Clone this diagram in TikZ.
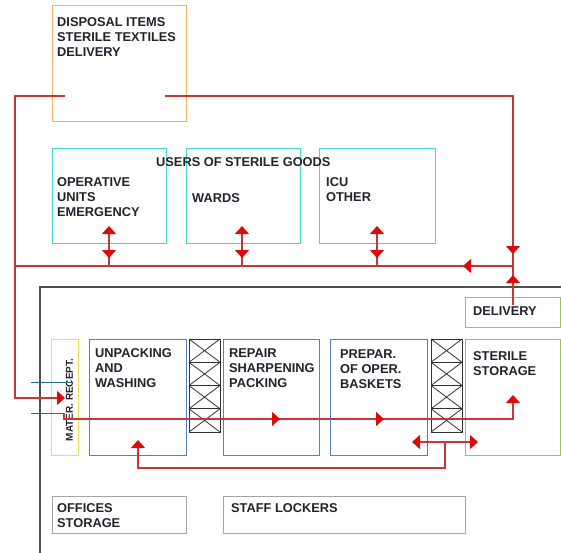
\documentclass[tikz,border=0pt]{standalone}
\usepackage{fontspec}
\setmainfont{Liberation Sans}
\usetikzlibrary{arrows.meta,calc}
\definecolor{lred}{RGB}{200,55,55}
\definecolor{ared}{RGB}{222,10,10}
\definecolor{cyanb}{RGB}{70,215,205}
\definecolor{blueb}{RGB}{85,125,210}
\definecolor{greenb}{RGB}{150,200,80}
\definecolor{yellowb}{RGB}{235,225,80}
\definecolor{orangeb}{RGB}{235,180,100}
\definecolor{grayb}{RGB}{165,165,165}
\definecolor{outerc}{RGB}{80,80,80}
\definecolor{tealc}{RGB}{40,110,120}
\definecolor{rackc}{RGB}{50,50,50}
\definecolor{txt}{RGB}{35,35,45}
\begin{document}
\begin{tikzpicture}[x=1bp,y=-1bp,
  area/.style={rectangle,line width=1bp,inner sep=0pt,anchor=north west},
  lbl/.style={anchor=north west,inner sep=0pt,align=left,text=txt,
    font=\bfseries\fontsize{12.8bp}{15.4bp}\selectfont},
  flow/.style={draw=lred,line width=1.2bp},
  tip/.style={-{Triangle[width=14bp,length=8bp,color=ared]}},
  dtip/.style={{Triangle[width=14bp,length=8bp,color=ared]}-{Triangle[width=14bp,length=8bp,color=ared]}},
  feed/.style={draw=tealc,line width=1bp}]
\useasboundingbox (0,0) rectangle (561,553);
\fill[white] (0,0) rectangle (561,553);

% outer building outline
\coordinate (oBL) at (40,553);
\coordinate (oTL) at (40,287);
\coordinate (oTR) at (561,287);
\draw[outerc,line width=1.2bp] (oBL) -- (oTL) -- (oTR);

% boxes
\node[area,draw=orangeb,minimum width=134bp,minimum height=116bp] (disp) at (52,5) {};
\node[lbl] (dispT) at (57,17) {DISPOSAL ITEMS\\STERILE TEXTILES\\DELIVERY};

\node[area,draw=cyanb,minimum width=114bp,minimum height=95bp] (op) at (52,148) {};
\node[area,draw=cyanb,minimum width=114bp,minimum height=95bp] (wards) at (186,148) {};
\node[area,draw=cyanb,minimum width=116bp,minimum height=95bp] (icu) at (319,148) {};
\node[lbl] (usersT) at (156,157) {USERS OF STERILE GOODS};
\node[lbl] (opT) at (57,177) {OPERATIVE\\UNITS\\EMERGENCY};
\node[lbl] (wardsT) at (192,193) {WARDS};
\node[lbl] (icuT) at (326,177) {ICU\\OTHER};

\node[area,draw=greenb,minimum width=95bp,minimum height=30bp] (deliv) at (465,297) {};
\node[lbl] (delivT) at (473,306) {DELIVERY};
\node[area,draw=greenb,minimum width=95bp,minimum height=116bp] (ster) at (465,339) {};
\node[lbl] (sterT) at (473,351) {STERILE\\STORAGE};

\node[area,draw=yellowb,minimum width=27bp,minimum height=116bp] (mater) at (51,339) {};
\node[rotate=90,inner sep=0pt,text=txt,font=\bfseries\fontsize{10bp}{12bp}\selectfont] (materT) at (69.5,400) {MATER. RECEPT.};

\node[area,draw=blueb,minimum width=97bp,minimum height=116bp] (unpack) at (89,339) {};
\node[lbl] (unpackT) at (95,348) {UNPACKING\\AND\\WASHING};
\node[area,draw=blueb,minimum width=96bp,minimum height=116bp] (repair) at (223,339) {};
\node[lbl] (repairT) at (229,348) {REPAIR\\SHARPENING\\PACKING};
\node[area,draw=blueb,minimum width=97bp,minimum height=116bp] (prepar) at (330,339) {};
\node[lbl] (preparT) at (340,349) {PREPAR.\\OF OPER.\\BASKETS};

\node[area,draw=grayb,minimum width=134bp,minimum height=37bp] (offices) at (52,496) {};
\node[lbl] (officesT) at (57,503) {OFFICES\\STORAGE};
\node[area,draw=grayb,minimum width=242bp,minimum height=37bp] (staff) at (223,496) {};
\node[lbl] (staffT) at (231,503) {STAFF LOCKERS};

% racks (pass-through)
\foreach \rx/\nm in {189/rackA,431/rackB}{
  \node[area,draw=rackc,minimum width=31bp,minimum height=93bp] (\nm) at (\rx,339) {};
  \foreach \i in {0,1,2,3}{
    \draw[rackc,line width=1bp] (\rx,339+\i*23.25) rectangle (\rx+31,339+\i*23.25+23.25);
    \draw[rackc,line width=0.8bp] (\rx,339+\i*23.25) -- (\rx+31,339+\i*23.25+23.25)
                                  (\rx+31,339+\i*23.25) -- (\rx,339+\i*23.25+23.25);
  }
}

% connector coordinates
\coordinate (dL) at (65,96);
\coordinate (dR) at (165,96);
\coordinate (cNW) at (15,96);
\coordinate (cNE) at (513,96);
\coordinate (cSW) at (15,398);
\coordinate (recIn) at (65,398);
\coordinate (busW) at (15,266);
\coordinate (busE) at (513,266);
\coordinate (busArr) at (463,266);
\coordinate (downArr) at (513,254);
\coordinate (delivIn) at (513,305);
\coordinate (upArr) at (513,275);

% supply loop from disposal items
\draw[flow,tip] (dL) -- (cNW) -- (cSW) -- (recIn);
\draw[flow] (dR) -- (cNE) -- (busE) -- (busW);
\draw[flow,tip] ($(downArr)+(0,-10)$) -- (downArr);
\draw[flow,tip] ($(busArr)+(10,0)$) -- (busArr);
\draw[flow] (delivIn) -- (busE);
\draw[flow,tip] ($(upArr)+(0,8)$) -- (upArr);

% users double arrows
\foreach \ux/\nm in {109/op,242/wards,377/icu}{
  \coordinate (\nm B) at (\ux,266);
  \coordinate (\nm U) at (\ux,226);
  \coordinate (\nm D) at (\ux,258);
  \draw[flow,tip] (\nm B) -- (\nm U);
  \draw[flow,tip] ($(\nm D)+(0,-10)$) -- (\nm D);
}

% feed lines into material reception
\coordinate (f1a) at (31,382);
\coordinate (f1b) at (73,382);
\coordinate (f2a) at (31,413);
\coordinate (f2b) at (64,413);
\draw[feed] (f1a) -- (f1b);
\draw[feed] (f2a) -- (f2b);

% main process flow
\coordinate (m0) at (64,413);
\coordinate (m1) at (64,419);
\coordinate (m2) at (513,419);
\coordinate (m3) at (513,395);
\coordinate (mA) at (280,419);
\coordinate (mB) at (384,419);
\draw[flow,tip] (m0) -- (m1) -- (m2) -- (m3);
\draw[flow,tip] ($(mA)+(-10,0)$) -- (mA);
\draw[flow,tip] ($(mB)+(-10,0)$) -- (mB);

% return flow
\coordinate (r1) at (412,442);
\coordinate (r2) at (478,442);
\coordinate (r3) at (445,442);
\coordinate (r4) at (445,468);
\coordinate (r5) at (138,468);
\coordinate (r6) at (138,440);
\draw[flow,dtip] (r1) -- (r2);
\draw[flow,tip] (r3) -- (r4) -- (r5) -- (r6);
\end{tikzpicture}
\end{document}
